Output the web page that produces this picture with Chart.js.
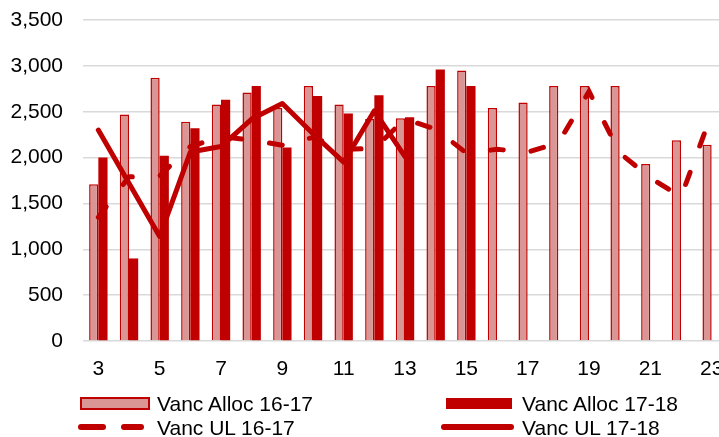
<!DOCTYPE html>
<html>
<head>
<meta charset="utf-8">
<script src="https://cdn.jsdelivr.net/npm/chart.js@4.4.1/dist/chart.umd.min.js"></script>
<style>
    body { margin: 0; overflow: hidden; background: #fff; }
    #wrap { position: relative; width: 719px; height: 437px; overflow: hidden; }
    #myChart { position: absolute; left: 0; top: 0; }
    .lg { position: absolute; font: 21px "Liberation Sans", Arial, sans-serif; line-height: 21px; color: #000; white-space: nowrap; }
    .sw { position: absolute; box-sizing: border-box; }
</style>
</head>
<body>
<div id="wrap">
    <canvas id="myChart" width="727" height="437"></canvas>
    <div class="sw" style="left:80px;top:397px;width:70px;height:13px;background:#d99694;border:2px solid #c00000;"></div>
    <div class="lg" style="left:157px;top:393px;">Vanc Alloc 16-17</div>
    <div class="sw" style="left:446px;top:398px;width:66px;height:11px;background:#c00000;"></div>
    <div class="lg" style="left:522px;top:393px;">Vanc Alloc 17-18</div>
    <div class="sw" style="left:78px;top:424px;width:28px;height:6px;background:#c00000;border-radius:3px;"></div>
    <div class="sw" style="left:121px;top:424px;width:23px;height:6px;background:#c00000;border-radius:3px;"></div>
    <div class="lg" style="left:157px;top:417px;">Vanc UL 16-17</div>
    <div class="sw" style="left:441px;top:424px;width:73px;height:6px;background:#c00000;border-radius:3px;"></div>
    <div class="lg" style="left:522px;top:417px;">Vanc UL 17-18</div>
</div>
<script>
const categories = ['3', '4', '5', '6', '7', '8', '9', '10', '11', '12', '13', '14', '15', '16', '17', '18', '19', '20', '21', '22', '23'];
const tickLabels = ['3', '', '5', '', '7', '', '9', '', '11', '', '13', '', '15', '', '17', '', '19', '', '21', '', '23'];
const yTicks = [0, 500, 1000, 1500, 2000, 2500, 3000, 3500];

const vancAlloc1617 = [1710, 2470, 2870, 2390, 2580, 2710, 2540, 2780, 2580, 2420, 2430, 2780, 2950, 2540, 2600, 2780, 2780, 2780, 1930, 2190, 2140];
const vancAlloc1718 = [2000, 900, 2020, 2320, 2630, 2780, 2110, 2670, 2480, 2680, 2440, 2960, 2780, null, null, null, null, null, null, null, null];
const vancUL1617 = [1350, 1790, 1800, 2120, 2230, 2190, 2135, 2220, 2090, 2100, 2420, 2310, 2050, 2090, 2060, 2160, 2720, 2050, 1780, 1570, 2480];
const vancUL1718 = [2300, 1720, 1140, 2060, 2120, 2420, 2590, 2260, 1950, 2510, 2010, null, null, null, null, null, null, null, null, null, null];

const red = '#c00000';
const pink = '#d99694';
const font = { family: '"Liberation Sans", Arial, sans-serif', size: 21 };

window.addEventListener("load", () =>
{
    let ctx = document.getElementById('myChart').getContext('2d');
    new Chart(ctx, {
        data: {
            labels: categories,
            datasets: [
                {
                    type: 'line', label: 'Vanc UL 16-17', data: vancUL1617, order: 0,
                    borderColor: red, borderWidth: 5, borderDash: [13, 28], borderCapStyle: 'round',
                    pointRadius: 0, tension: 0, fill: false
                },
                {
                    type: 'line', label: 'Vanc UL 17-18', data: vancUL1718, order: 0,
                    borderColor: red, borderWidth: 5, borderCapStyle: 'round', borderJoinStyle: 'round',
                    pointRadius: 0, tension: 0, fill: false
                },
                {
                    type: 'bar', label: 'Vanc Alloc 16-17', data: vancAlloc1617, order: 1,
                    backgroundColor: pink, borderColor: red, borderWidth: 1.5,
                    categoryPercentage: 0.6, barPercentage: 1.0
                },
                {
                    type: 'bar', label: 'Vanc Alloc 17-18', data: vancAlloc1718, order: 1,
                    backgroundColor: red, borderWidth: 0,
                    categoryPercentage: 0.6, barPercentage: 1.0
                }
            ]
        },
        options: {
            responsive: false,
            animation: false,
            layout: { padding: { top: 20, left: 0, right: 0, bottom: 0 } },
            plugins: { legend: { display: false }, tooltip: { enabled: false } },
            scales: {
                x: {
                    grid: { display: false },
                    border: { display: false },
                    ticks: {
                        font: font, color: '#000', maxRotation: 0, autoSkip: false, padding: 8,
                        callback: (v, i) => tickLabels[i]
                    },
                    afterFit: s =>
                    {
                        s.height = 96;
                        s.paddingLeft = 0;
                        s.paddingRight = 0;
                    }
                },
                y: {
                    min: yTicks[0],
                    max: yTicks[yTicks.length - 1],
                    grid: { color: '#d9d9d9', lineWidth: 1.5, drawTicks: false },
                    border: { display: false },
                    ticks: {
                        stepSize: 500, font: font, color: '#000', padding: 20,
                        callback: v => v.toLocaleString('en-US')
                    },
                    afterFit: s =>
                    {
                        s.width = 83;
                        s.paddingTop = 0;
                        s.paddingBottom = 0;
                    }
                }
            }
        }
    });
});
</script>
</body>
</html>
